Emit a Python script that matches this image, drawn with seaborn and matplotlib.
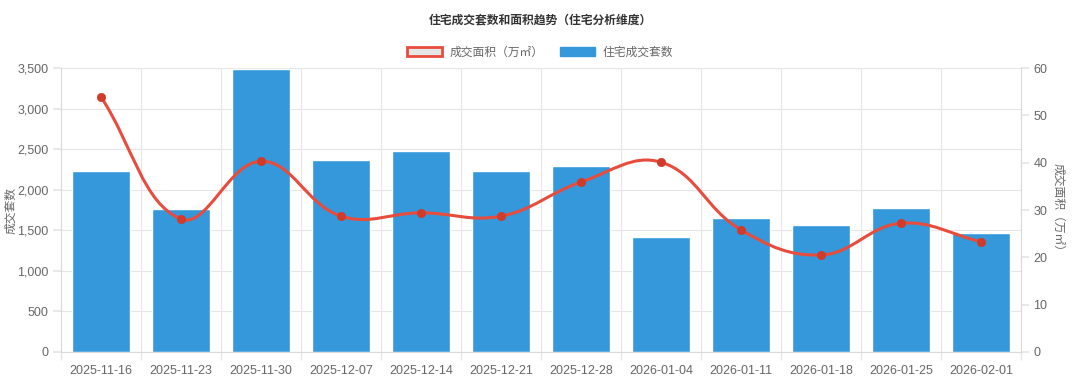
import numpy as np
import pandas as pd
import matplotlib
matplotlib.use("Agg")
import matplotlib.pyplot as plt
from matplotlib.path import Path
from matplotlib.patches import PathPatch, Patch
import seaborn as sns

weeks = ["2025-11-16", "2025-11-23", "2025-11-30", "2025-12-07", "2025-12-14", "2025-12-21",
         "2025-12-28", "2026-01-04", "2026-01-11", "2026-01-18", "2026-01-25", "2026-02-01"]
units = [2230, 1765, 3490, 2366, 2477, 2232, 2293, 1415, 1655, 1568, 1771, 1463]
area = [53.9, 28.1, 40.3, 28.7, 29.4, 28.7, 35.9, 40.1, 25.8, 20.5, 27.2, 23.3]

BAR_COLOR = "#3498db"
LINE_COLOR = "#e74c3c"
POINT_COLOR = "#d13b2c"
GRID_COLOR = "#e6e6e6"
TEXT_COLOR = "#666666"

sns.set_theme(style="white")
plt.rcParams["font.family"] = ["Liberation Sans", "Noto Sans CJK SC", "DejaVu Sans"]
CJK = ["Noto Sans CJK SC", "DejaVu Sans"]


def spline_path(xs, ys, sx, sy, tension=0.4):
    # Chart.js style bezier smoothing, computed in pixel-like space
    px = np.asarray(xs, float) * sx
    py = np.asarray(ys, float) * sy
    n = len(px)
    verts = [(px[0], py[0])]
    codes = [Path.MOVETO]
    cps = []
    for i in range(n):
        p0 = (px[max(i - 1, 0)], py[max(i - 1, 0)])
        p1 = (px[i], py[i])
        p2 = (px[min(i + 1, n - 1)], py[min(i + 1, n - 1)])
        d01 = np.hypot(p1[0] - p0[0], p1[1] - p0[1])
        d12 = np.hypot(p2[0] - p1[0], p2[1] - p1[1])
        tot = d01 + d12
        s01 = d01 / tot if tot else 0
        s12 = d12 / tot if tot else 0
        fa, fb = tension * s01, tension * s12
        prev_cp = (p1[0] - fa * (p2[0] - p0[0]), p1[1] - fa * (p2[1] - p0[1]))
        next_cp = (p1[0] + fb * (p2[0] - p0[0]), p1[1] + fb * (p2[1] - p0[1]))
        cps.append((prev_cp, next_cp))
    for i in range(1, n):
        verts += [cps[i - 1][1], cps[i][0], (px[i], py[i])]
        codes += [Path.CURVE4] * 3
    verts = [(x / sx, y / sy) for x, y in verts]
    return Path(verts, codes)


df = pd.DataFrame({"week": weeks, "units": units, "area": area})

fig = plt.figure(figsize=(10.8, 3.92), dpi=100)
ax = fig.add_axes([61 / 1080, 1 - 352 / 392, 960 / 1080, 284 / 392])

sns.barplot(data=df, x="week", y="units", color=BAR_COLOR, width=0.72,
            saturation=1, ax=ax, zorder=2)
ax.set_xlim(-0.5, len(weeks) - 0.5)
ax.set_ylim(0, 3500)
ax.set_yticks(range(0, 3501, 500))
ax.set_yticklabels([f"{v:,}" for v in range(0, 3501, 500)])
ax.set_xticks(np.arange(-0.5, len(weeks), 1), minor=True)
ax.grid(True, axis="y", color=GRID_COLOR, linewidth=0.8, zorder=0)
ax.grid(True, axis="x", which="minor", color=GRID_COLOR, linewidth=0.8, zorder=0)
ax.set_axisbelow(True)
ax.tick_params(axis="x", which="major", length=0, labelsize=9, colors=TEXT_COLOR, pad=9)
ax.tick_params(axis="x", which="minor", length=6, color=GRID_COLOR, bottom=True)
ax.tick_params(axis="y", length=6, color=GRID_COLOR, labelsize=9, labelcolor=TEXT_COLOR,
               pad=3, left=True)
ax.set_xlabel("")
ax.set_ylabel("成交套数", fontsize=8.5, color=TEXT_COLOR, family=CJK)
ax.yaxis.set_label_coords(-0.046, 0.5)
for side in ["top", "right"]:
    ax.spines[side].set_visible(False)
for side in ["left", "bottom"]:
    ax.spines[side].set_color("#d9d9d9")
    ax.spines[side].set_linewidth(0.8)

ax2 = ax.twinx()
ax2.set_ylim(0, 60)
ax2.set_yticks(range(0, 61, 10))
xs = np.arange(len(weeks))
path = spline_path(xs, area, 80.0, 284 / 60)
ax2.add_patch(PathPatch(path, facecolor="none", edgecolor=LINE_COLOR, linewidth=2.2, zorder=3))
sns.scatterplot(x=xs, y=area, ax=ax2, color=POINT_COLOR, s=36, edgecolor=POINT_COLOR,
                linewidth=0.5, zorder=4)
ax2.set_xlim(-0.5, len(weeks) - 0.5)
ax2.tick_params(axis="y", length=6, color=GRID_COLOR, labelsize=9, labelcolor=TEXT_COLOR,
                pad=3, right=True)
ax2.set_ylabel("成交面积（万㎡）", fontsize=8.5, color=TEXT_COLOR, rotation=270, family=CJK)
ax2.yaxis.set_label_coords(1.046, 0.5)
for side in ["top", "left", "bottom"]:
    ax2.spines[side].set_visible(False)
ax2.spines["right"].set_color("#d9d9d9")
ax2.spines["right"].set_linewidth(0.8)

fig.text(0.5, 1 - 20 / 392, "住宅成交套数和面积趋势（住宅分析维度）", ha="center", va="center",
         fontsize=8.5, fontweight="bold", color="#333333", family=CJK)

handles = [Patch(facecolor="#e6e6e6", edgecolor=LINE_COLOR, linewidth=2),
           Patch(facecolor=BAR_COLOR, edgecolor=BAR_COLOR)]
fig.legend(handles, ["成交面积（万㎡）", "住宅成交套数"], loc="center",
           bbox_to_anchor=(0.5, 1 - 52 / 392), ncol=2, frameon=False,
           prop={"family": CJK, "size": 8.5},
           handlelength=3.0, handleheight=0.9, columnspacing=1.4, handletextpad=0.6,
           labelcolor=TEXT_COLOR)

fig.savefig("out.png", dpi=100)
